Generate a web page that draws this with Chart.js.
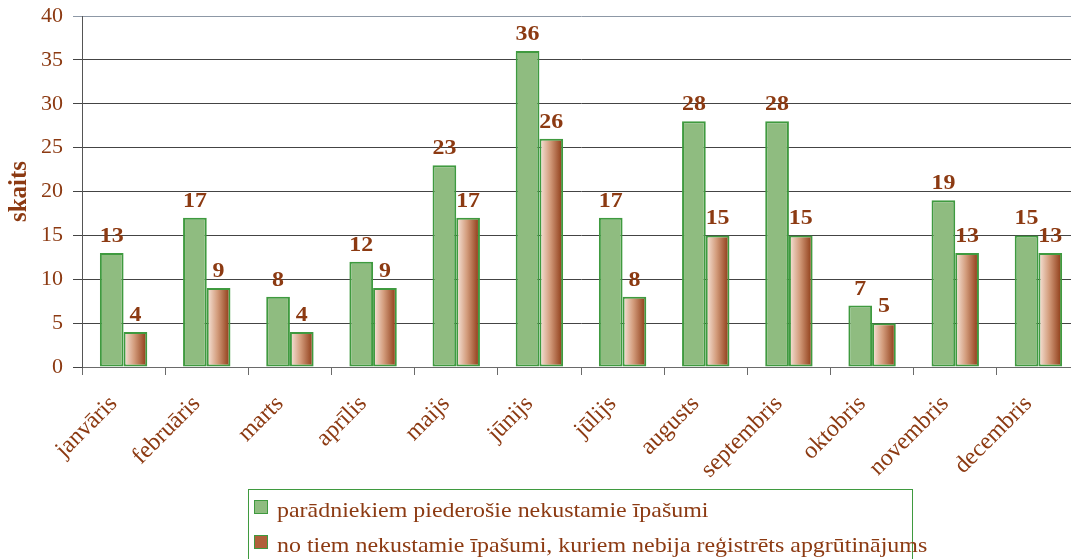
<!DOCTYPE html>
<html>
<head>
<meta charset="utf-8">
<script src="https://cdn.jsdelivr.net/npm/chart.js@4/dist/chart.umd.min.js"></script>
<style>
  html, body { margin: 0; padding: 0; background: #fff; overflow: hidden; }
  #wrap { width: 1080px; height: 559px; }
</style>
</head>
<body>
<div id="wrap"><canvas id="months-chart" width="1080" height="559"></canvas></div>
<script>
const months = ["janvāris", "februāris", "marts", "aprīlis", "maijs", "jūnijs", "jūlijs", "augusts", "septembris", "oktobris", "novembris", "decembris"];
const owned = [13, 17, 8, 12, 23, 36, 17, 28, 28, 7, 19, 15];
const unencumbered = [4, 9, 4, 9, 17, 26, 8, 15, 15, 5, 13, 13];
const seriesNames = ["parādniekiem piederošie nekustamie īpašumi", "no tiem nekustamie īpašumi, kuriem nebija reģistrēts apgrūtinājums"];
const yTicks = [0, 5, 10, 15, 20, 25, 30, 35, 40];

const brown = '#8c3a12';
const green = '#3f9a3f';
const greenFill = '#8fbc80';
const serif = "'Liberation Serif', 'Times New Roman', serif";
const catPct = 0.57;
const stretch = 1.14; // text in this chart is a bit wide

// brown bars fade from pale on the left to dark on the right
function brownGradient(context) {
    const chart = context.chart;
    const x = chart.scales.x;
    if (!x || context.dataIndex === undefined) return '#b0603a';
    const center = x.getPixelForValue(context.dataIndex);
    const half = (x.width / months.length) * catPct / 2;
    if (!isFinite(center) || !isFinite(half) || half <= 0) return '#b0603a';
    const g = chart.ctx.createLinearGradient(center, 0, center + half, 0);
    g.addColorStop(0, '#f8e8de');
    g.addColorStop(0.45, '#d39c7c');
    g.addColorStop(1, '#8a3510');
    return g;
}

function wideText(ctx, text, x, y) {
    ctx.save();
    ctx.translate(x, y);
    ctx.scale(stretch, 1);
    ctx.fillText(text, 0, 0);
    ctx.restore();
}

const valueLabels = {
    id: 'valueLabels',
    afterDatasetsDraw(chart) {
        const ctx = chart.ctx;
        ctx.save();
        ctx.font = "bold 21px " + serif;
        ctx.fillStyle = brown;
        ctx.textAlign = 'center';
        ctx.textBaseline = 'alphabetic';
        chart.data.datasets.forEach((ds, i) => {
            chart.getDatasetMeta(i).data.forEach((bar, j) => {
                wideText(ctx, String(ds.data[j]), bar.x, bar.y - 11);
            });
        });
        ctx.restore();
    }
};

const boxLegend = {
    id: 'boxLegend',
    afterDraw(chart) {
        const ctx = chart.ctx;
        ctx.save();
        ctx.strokeStyle = green;
        ctx.lineWidth = 1;
        ctx.strokeRect(248.5, 489.5, 664, 120);
        const fills = [greenFill, '#b0603a'];
        ctx.font = "21px " + serif;
        ctx.textBaseline = 'alphabetic';
        seriesNames.forEach((name, i) => {
            const y = 500 + i * 35;
            ctx.fillStyle = fills[i];
            ctx.fillRect(254, y, 14, 14);
            ctx.strokeStyle = green;
            ctx.strokeRect(254.5, y + 0.5, 13, 13);
            ctx.fillStyle = brown;
            wideText(ctx, name, 277, 517 + i * 35);
        });
        ctx.restore();
    }
};

const chart = new Chart(document.querySelector('#months-chart').getContext('2d'), {
    type: 'bar',
    data: {
        labels: months,
        datasets: [
            {
                label: seriesNames[0],
                data: owned,
                backgroundColor: greenFill,
                borderColor: green,
                borderWidth: 2,
                borderSkipped: false,
                categoryPercentage: catPct,
                barPercentage: 1
            },
            {
                label: seriesNames[1],
                data: unencumbered,
                backgroundColor: brownGradient,
                borderColor: green,
                borderWidth: 2,
                borderSkipped: false,
                categoryPercentage: catPct,
                barPercentage: 1
            }
        ]
    },
    options: {
        responsive: false,
        animation: false,
        layout: { padding: { top: 16, left: 0, right: 0, bottom: 0 } },
        plugins: {
            legend: { display: false },
            tooltip: { enabled: false }
        },
        scales: {
            x: {
                afterFit(scale) { scale.height = 192; },
                border: { color: '#6a6a6a', width: 1 },
                grid: {
                    offset: true,
                    drawOnChartArea: false,
                    tickLength: 8,
                    color: '#6a6a6a'
                },
                ticks: {
                    color: brown,
                    font: { family: serif, size: 24 },
                    minRotation: 45,
                    maxRotation: 45,
                    padding: 15,
                    labelOffset: -10,
                    autoSkip: false
                }
            },
            y: {
                min: 0,
                max: 40,
                afterFit(scale) {
                    scale.width = 82;
                    scale.paddingTop = 0;
                    scale.paddingBottom = 0;
                },
                afterBuildTicks(scale) { scale.ticks = yTicks.map(v => ({ value: v })); },
                border: { color: '#555', width: 1 },
                grid: {
                    tickLength: 9,
                    color: ctx => ctx.tick && ctx.tick.value === 40 ? '#8d98a6' : '#444'
                },
                ticks: {
                    color: brown,
                    font: { family: serif, size: 22 },
                    padding: 10
                },
                title: {
                    display: true,
                    text: 'skaits',
                    color: brown,
                    font: { family: serif, size: 25, weight: 'bold' },
                    padding: { top: 5, bottom: 0 }
                }
            }
        }
    },
    plugins: [valueLabels, boxLegend]
});
</script>
</body>
</html>
